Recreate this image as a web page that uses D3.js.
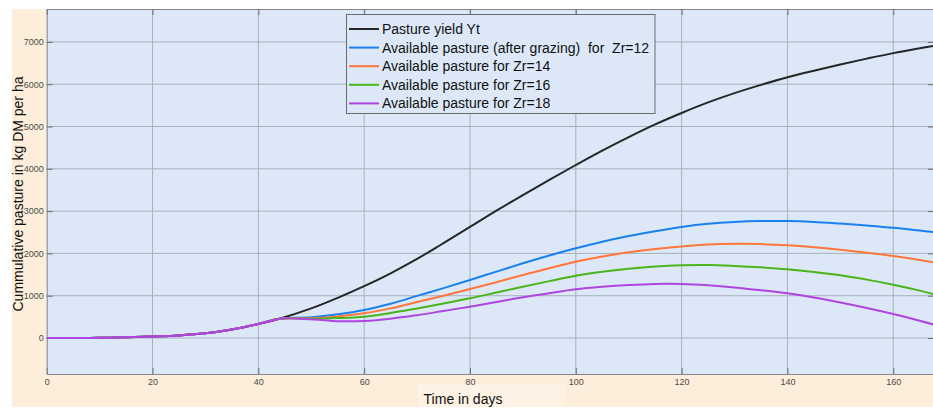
<!DOCTYPE html>
<html><head><meta charset="utf-8">
<script src="https://cdn.jsdelivr.net/npm/d3@7"></script>
<style>body{margin:0;background:#fff}svg{display:block}</style>
</head><body>
<svg id="c" width="933" height="408"></svg>
<script>
const days = [0,5,10,15,20,25,30,35,40,44,50,55,60,65,70,75,80,85,90,95,100,105,110,115,120,125,130,135,140,145,150,155,160,165,168];
const common = [0,1,5,15,35,60,110,200,331,457];
const yieldYt = [700,950,1225,1530,1870,2245,2625,3010,3380,3740,4090,4430,4750,5050,5320,5570,5790,5985,6165,6320,6468,6605,6735,6850,6915];
const zr12 = [489,560,662,810,995,1180,1371,1570,1766,1950,2120,2275,2410,2525,2625,2700,2745,2765,2765,2745,2705,2660,2608,2540,2499];
const zr14 = [465,510,583,700,850,1000,1158,1320,1489,1650,1804,1925,2025,2105,2165,2210,2228,2220,2191,2145,2085,2015,1939,1845,1780];
const zr16 = [455,470,504,590,700,815,938,1075,1213,1345,1473,1565,1635,1688,1720,1728,1705,1670,1624,1560,1482,1380,1260,1120,1024];
const zr18 = [442,398,402,455,540,640,740,850,962,1060,1151,1210,1253,1278,1276,1245,1195,1130,1056,960,840,710,567,410,305];
const seriesNames = ["Pasture yield Yt","Available pasture (after grazing)  for  Zr=12","Available pasture for Zr=14","Available pasture for Zr=16","Available pasture for Zr=18"];
const seriesColors = ["#262626","#1a80f0","#ff7638","#4ab51a","#b044e0"];
const xTicks = [0,20,40,60,80,100,120,140,160];
const yTicks = [0,1000,2000,3000,4000,5000,6000,7000];

const svg = d3.select("#c");
const L = 46.7, R = 934, T = 9, B = 374;
const x = d3.scaleLinear().domain([0,167.7]).range([L,R]);
const y = d3.scaleLinear().domain([-851,7778]).range([B,T]);
const FONT = "'Liberation Sans',Arial,sans-serif";

// figure background
svg.append("rect").attr("x",12).attr("y",9).attr("width",921).attr("height",398).attr("fill","#fdeedb");
// x label backing box
svg.append("rect").attr("x",418).attr("y",384).attr("width",147).attr("height",23).attr("fill","#fef2e4");
// plot bg
svg.append("rect").attr("x",L).attr("y",T).attr("width",R-L).attr("height",B-T).attr("fill","#dce8f8");

// grid
const g = svg.append("g");
g.selectAll(".vx").data(xTicks.slice(1)).enter().append("line")
 .attr("x1",d=>x(d)).attr("x2",d=>x(d)).attr("y1",T).attr("y2",B)
 .attr("stroke","#a8b0bc").attr("stroke-width",1);
g.selectAll(".hy").data(yTicks).enter().append("line")
 .attr("x1",L).attr("x2",R).attr("y1",d=>y(d)).attr("y2",d=>y(d))
 .attr("stroke","#a8b0bc").attr("stroke-width",1);

// axes with inward ticks
const axB = d3.axisBottom(x).tickValues(xTicks).tickSizeInner(-6).tickSizeOuter(0).tickPadding(5).tickFormat(d3.format("d"));
const axL = d3.axisLeft(y).tickValues(yTicks).tickSizeInner(-6).tickSizeOuter(0).tickPadding(3).tickFormat(d3.format("d"));
const axT = d3.axisTop(x).tickValues(xTicks).tickSizeInner(-6).tickSizeOuter(0).tickFormat("");
const axR = d3.axisRight(y).tickValues(yTicks).tickSizeInner(-6).tickSizeOuter(0).tickFormat("");
function style(sel){
  sel.selectAll("path").attr("stroke","#858585");
  sel.selectAll("line").attr("stroke","#6e6e6e");
  sel.selectAll("text").attr("fill","#4a4a4a").style("font-family",FONT).style("font-size","9px");
}
style(svg.append("g").attr("transform",`translate(0,${B})`).call(axB));
style(svg.append("g").attr("transform",`translate(${L},0)`).call(axL));
style(svg.append("g").attr("transform",`translate(0,${T})`).call(axT));
style(svg.append("g").attr("transform",`translate(${R},0)`).call(axR));

// series
const line = d3.line().x(d=>x(d[0])).y(d=>y(d[1])).curve(d3.curveCatmullRom.alpha(0.5));
const pre = days.slice(0,common.length).map((d,i)=>[d,common[i]]);
const tail2 = days.slice(common.length);
const sets = [yieldYt,zr12,zr14,zr16,zr18].map(arr => pre.concat(tail2.map((d,i)=>[d,arr[i]])));
svg.append("clipPath").attr("id","pc").append("rect").attr("x",L).attr("y",T).attr("width",R-L).attr("height",B-T);
const lg = svg.append("g").attr("clip-path","url(#pc)");
sets.forEach((s,i)=>{
  lg.append("path").datum(s).attr("d",line).attr("fill","none")
   .attr("stroke",seriesColors[i]).attr("stroke-width",2);
});
// common segment drawn in last colour (top-most)
lg.append("path").datum(pre).attr("d",line).attr("fill","none").attr("stroke",seriesColors[4]).attr("stroke-width",2);

// legend
const leg = svg.append("g");
leg.append("rect").attr("x",346.5).attr("y",14.5).attr("width",308.5).attr("height",99).attr("fill","#dce8f8").attr("stroke","#6a6a6a").attr("stroke-width",1);
seriesNames.forEach((n,i)=>{
  const yy = 29 + i*18.6;
  leg.append("line").attr("x1",349).attr("x2",379).attr("y1",yy).attr("y2",yy).attr("stroke",seriesColors[i]).attr("stroke-width",2);
  leg.append("text").attr("x",382).attr("y",yy).attr("dy","0.36em").text(n)
   .style("white-space","pre").attr("xml:space","preserve")
   .style("font-family",FONT).style("font-size","14px").attr("fill","#111");
});

// axis titles
svg.append("text").attr("x",463).attr("y",404).attr("text-anchor","middle").text("Time in days")
 .style("font-family",FONT).style("font-size","14px").attr("fill","#111");
svg.append("text").attr("transform","translate(23,194) rotate(-90)").attr("text-anchor","middle").text("Cummulative pasture in kg DM per ha")
 .style("font-family",FONT).style("font-size","14px").attr("fill","#111");
</script>
</body></html>
